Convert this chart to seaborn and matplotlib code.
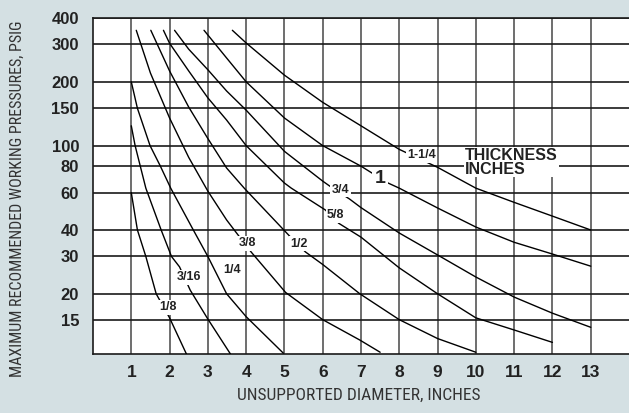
import matplotlib
matplotlib.use("Agg")
import pandas as pd
import matplotlib.pyplot as plt
import seaborn as sns
from matplotlib import font_manager

# values: unsupported diameter (in) vs max pressure (psig)
d_1_8 = [1.0, 1.16, 1.38, 1.65, 2.0, 2.44]
p_1_8 = [60, 40, 30, 20, 15.4, 10.4]

d_3_16 = [1.0, 1.1, 1.38, 1.78, 2.05, 2.26, 2.54, 3.0, 3.59]
p_3_16 = [124, 100, 63, 40, 30, 26.8, 20.8, 15.2, 10.4]

d_1_4 = [1.0, 1.16, 1.49, 1.76, 2.03, 2.62, 3.0, 3.49, 4.0, 4.97]
p_1_4 = [200, 150, 100, 80, 63, 40, 30, 20, 15.6, 10.5]

d_3_8 = [1.13, 1.5, 2.0, 2.5, 3.0, 3.49, 3.75, 4.13, 5.03, 6.0, 6.97, 7.5]
p_3_8 = [350, 220, 135, 88, 61, 44.6, 38.7, 31.5, 20.3, 15.1, 12.1, 10.6]

d_1_2 = [1.51, 2.0, 2.5, 3.0, 3.49, 3.95, 5.18, 5.55, 6.0, 6.97, 8.0, 9.0, 10.0]
p_1_2 = [350, 225, 152, 108, 78.4, 63, 36.7, 31.5, 27.5, 20, 15.1, 12.3, 10.6]

d_5_8 = [1.84, 2.0, 2.5, 3.0, 3.49, 4.0, 5.0, 5.18, 6.07, 6.42, 7.0, 8.0, 9.0, 10.0, 11.0, 12.0]
p_5_8 = [350, 304, 225, 168, 132, 100, 66.6, 63, 49.7, 43, 37, 26.5, 20, 15.4, 13.5, 11.8]

d_3_4 = [2.13, 2.5, 3.0, 3.49, 4.0, 5.0, 6.0, 6.26, 6.7, 7.0, 8.0, 9.0, 10.0, 11.0, 12.0, 13.0]
p_3_4 = [350, 285, 228, 181, 147, 94, 68, 63, 56, 51, 38.7, 30.5, 24, 19.3, 16.2, 13.9]

d_1 = [2.9, 3.49, 4.0, 5.0, 6.0, 7.0, 7.3, 7.6, 8.0, 9.0, 10.0, 11.0, 12.0, 13.0]
p_1 = [350, 259, 200, 135, 100, 80, 74, 68, 63, 50.8, 41.3, 35, 30.8, 27]

d_1_1_4 = [3.64, 4.0, 5.0, 6.0, 7.0, 8.0, 9.0, 10.0, 11.0, 12.0, 13.0]
p_1_1_4 = [350, 305, 215, 160, 124, 96, 79, 63, 54, 46.5, 40]

thickness = ["1/8", "3/16", "1/4", "3/8", "1/2", "5/8", "3/4", "1", "1-1/4"]
label_x = [1.95, 2.51, 3.64, 4.03, 5.39, 6.34, 6.47, 7.5, 8.58]
label_p = [17.3, 24, 25.9, 34.7, 34.4, 47, 61.8, 70, 90]

y_ticks = [15, 20, 30, 40, 60, 80, 100, 150, 200, 300, 400]
x_ticks = list(range(1, 14))

curves = [(d_1_8, p_1_8), (d_3_16, p_3_16), (d_1_4, p_1_4), (d_3_8, p_3_8),
          (d_1_2, p_1_2), (d_5_8, p_5_8), (d_3_4, p_3_4), (d_1, p_1),
          (d_1_1_4, p_1_1_4)]
rows = []
for t, (d, p) in zip(thickness, curves):
    for x, y in zip(d, p):
        rows.append({"diameter": x, "pressure": y, "thickness": t})
df = pd.DataFrame(rows)

sns.set_style("white")
names = {f.name for f in font_manager.fontManager.ttflist}
narrow = next((n for n in ["Liberation Sans Narrow", "Roboto Condensed",
                           "Open Sans Condensed", "DejaVu Sans Condensed"]
               if n in names), None)
plt.rcParams["font.family"] = ["Liberation Sans", "DejaVu Sans"]
label_font = narrow if narrow else "Liberation Sans"
label_size = 12.5 if narrow else 10.5

bg = "#d4e0e3"
fig = plt.figure(figsize=(6.29, 4.13), dpi=100)
fig.patch.set_facecolor(bg)
ax = fig.add_axes([93 / 629, 1 - 354 / 413, 536 / 629, 336 / 413])
ax.set_facecolor("white")

sns.lineplot(data=df, x="diameter", y="pressure", hue="thickness",
             palette={t: "black" for t in thickness}, sort=False,
             estimator=None, legend=False, linewidth=1.0, ax=ax, zorder=3)

ax.set_yscale("log")
ax.set_xlim(0, 14)
ax.set_ylim(10.4, 400)
ax.set_yticks(y_ticks)
ax.set_yticklabels([str(v) for v in y_ticks])
ax.yaxis.set_minor_locator(matplotlib.ticker.NullLocator())
ax.set_xticks(x_ticks)
ax.set_xticklabels([str(v) for v in x_ticks])
ax.tick_params(axis="both", length=0, colors="#222222")
ax.tick_params(axis="y", labelsize=12, pad=10)
ax.tick_params(axis="x", labelsize=12.5, pad=8)
for lab in ax.get_xticklabels() + ax.get_yticklabels():
    lab.set_fontweight("bold")

ax.set_axisbelow(True)
ax.grid(True, axis="y", color="#1a1a1a", linewidth=1.2)
ax.grid(True, axis="x", color="#555555", linewidth=1.2)
for side in ["left", "top", "bottom"]:
    ax.spines[side].set_color("#1a1a1a")
    ax.spines[side].set_linewidth(1.2)
ax.spines["right"].set_visible(False)
ax.set_xlabel("")
ax.set_ylabel("")

box = dict(facecolor="white", edgecolor="none", boxstyle="square,pad=0.12")
for t, x, y in zip(thickness, label_x, label_p):
    size = 14 if t == "1" else 9
    ax.text(x, y, t, ha="center", va="center", fontsize=size,
            fontweight="bold", color="#222222", bbox=box, zorder=5)

ax.text(9.72, 97.6, "THICKNESS\nINCHES", ha="left", va="top", fontsize=11.5,
        fontweight="bold", color="#222222", linespacing=0.9,
        bbox=dict(facecolor="white", edgecolor="none", boxstyle="square,pad=0.05"),
        zorder=5)

fig.text(358.5 / 629, 1 - 395 / 413, "UNSUPPORTED DIAMETER, INCHES",
         ha="center", va="center", fontsize=label_size, family=label_font,
         color="#333333")
fig.text(17 / 629, 1 - 199 / 413, "MAXIMUM RECOMMENDED WORKING PRESSURES, PSIG",
         ha="center", va="center", rotation=90, fontsize=label_size - 1,
         family=label_font, color="#333333")

fig.savefig("out.png", dpi=100, facecolor=bg)
